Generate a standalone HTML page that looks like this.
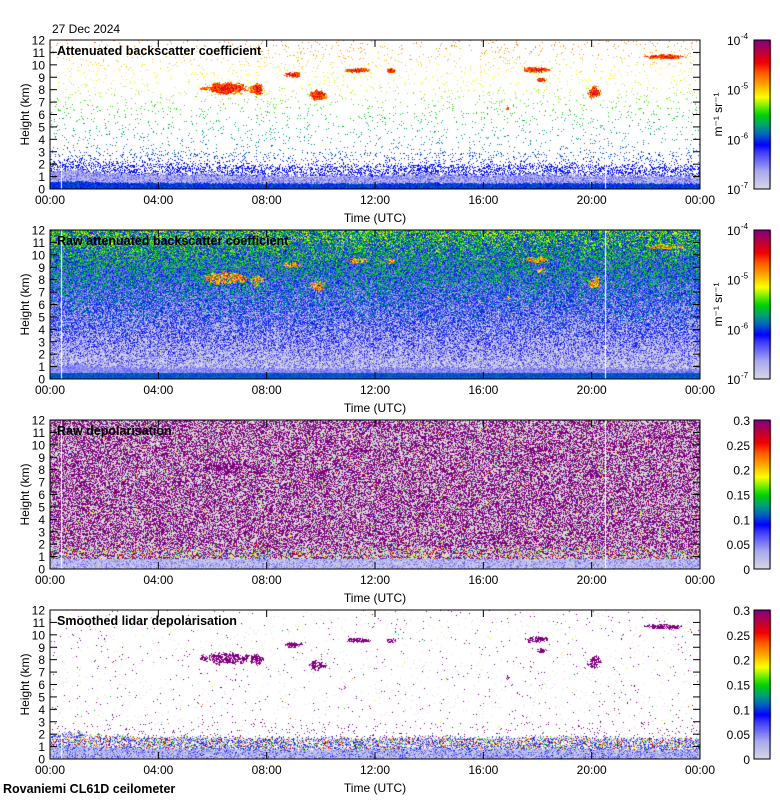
<!DOCTYPE html>
<html><head><meta charset="utf-8">
<style>
html,body{margin:0;padding:0;background:#fff;width:780px;height:800px;overflow:hidden}
#wrap{position:relative;width:780px;height:800px}
canvas{position:absolute;left:0;top:0}
svg{position:absolute;left:0;top:0}
text{font-family:"Liberation Sans",sans-serif;font-size:12px;fill:#000}
.t{font-weight:bold;font-size:12.5px}
</style></head>
<body>
<div id="wrap">
<canvas id="cv" width="780" height="800"></canvas>
<svg id="sv" width="780" height="800"></svg>
</div>
<script>
// ---- data ----
const xTickLabels = ["00:00","04:00","08:00","12:00","16:00","20:00","00:00"];
const xTickHours = [0,4,8,12,16,20,24];
const yTickValues = [0,1,2,3,4,5,6,7,8,9,10,11,12];
const panelTitles = ["Attenuated backscatter coefficient","Raw attenuated backscatter coefficient","Raw depolarisation","Smoothed lidar depolarisation"];
// cloud patches: start hour, end hour, base km, top km
const cloudStart = [5.4, 8.6, 9.5, 10.8, 12.4, 17.3, 17.9, 19.8, 21.7, 16.8, 7.3];
const cloudEnd   = [7.6, 9.4, 10.3, 11.9, 12.8, 18.6, 18.4, 20.4, 23.6, 17.0, 8.0];
const cloudBase  = [7.5, 8.9, 7.0, 9.3, 9.2, 9.3, 8.5, 7.2, 10.4, 6.3, 7.4];
const cloudTop   = [8.7, 9.5, 8.1, 9.8, 9.8, 9.9, 9.0, 8.4, 10.9, 6.7, 8.6];
// boundary layer top (km) through the day
const blHours = [0,1,2,4,6,8,10,12,14,16,18,20,22,24];
const blHeight = [1.4,1.6,1.3,1.2,1.2,1.1,1.1,1.1,1.2,1.1,1.2,1.1,1.1,1.0];
const gapHours = [0.4, 20.5];
const cbTicksLog = ["10","10","10","10"], cbExp=["-7","-6","-5","-4"];
const cbTicksDep = ["0","0.05","0.1","0.15","0.2","0.25","0.3"];

const X0=50, X1=700, PH=149;
const tops=[40,230,420,610];
const xs = t => X0 + t/24*(X1-X0);
const ys = (h,b) => b - h/12*PH;

const stops=[[0,[216,216,228]],[0.12,[170,170,240]],[0.25,[60,60,250]],[0.3,[0,0,255]],[0.37,[0,100,190]],[0.43,[0,160,120]],[0.5,[0,210,0]],[0.56,[120,240,0]],[0.62,[255,255,0]],[0.7,[255,170,0]],[0.78,[255,90,0]],[0.85,[240,0,0]],[0.92,[190,0,60]],[1,[128,0,128]]];
function cmap(v){v=Math.max(0,Math.min(1,v));for(let i=1;i<stops.length;i++){if(v<=stops[i][0]){const a=stops[i-1],b=stops[i],f=(v-a[0])/(b[0]-a[0]);return [0,1,2].map(k=>Math.round(a[1][k]+(b[1][k]-a[1][k])*f));}}return stops[stops.length-1][1];}
function hsh(x,y,s){let h=(x*374761393+y*668265263+s*982451653)|0;h=(h^(h>>>13))*1274126177|0;h=h^(h>>>16);return ((h>>>0)%100000)/100000;}
function bl(t){for(let i=1;i<blHours.length;i++)if(t<=blHours[i]){const f=(t-blHours[i-1])/(blHours[i]-blHours[i-1]);return blHeight[i-1]+(blHeight[i]-blHeight[i-1])*f;}return 1;}
function inCloud(t,h,px,py){
  for(let i=0;i<cloudStart.length;i++){
    if(t<cloudStart[i]-0.3||t>cloudEnd[i]+0.3||h<cloudBase[i]-0.4||h>cloudTop[i]+0.4)continue;
    const ct=(cloudStart[i]+cloudEnd[i])/2, ch=(cloudBase[i]+cloudTop[i])/2;
    const dt=(t-ct)/((cloudEnd[i]-cloudStart[i])/2), dh=(h-ch)/((cloudTop[i]-cloudBase[i])/2);
    const d=dt*dt+dh*dh;
    const n=hsh(Math.floor(px/4),Math.floor(py/3),7)*0.6+hsh(px,py,9)*0.4;
    if(d+0.9*n<1.0)return 1-d;
  }
  return -1;
}
const cv=document.getElementById('cv'),ctx=cv.getContext('2d');
const img=ctx.createImageData(780,800);
function put(x,y,c){const o=(y*780+x)*4;img.data[o]=c[0];img.data[o+1]=c[1];img.data[o+2]=c[2];img.data[o+3]=255;}
for(let p=0;p<4;p++){
  const top=tops[p], bot=top+PH;
  for(let py=top;py<bot;py++)for(let px=X0;px<X1;px++){
    const t=(px-X0+0.5)/(X1-X0)*24, h=(bot-py-0.5)/PH*12;
    const n1=hsh(px,py,p+1),n2=hsh(px,py,p+11),n3=hsh(px,py,p+21);
    const B=bl(t)+ (hsh(px,0,3)-0.5)*0.3;
    const cl=inCloud(t,h,px,py);
    let c=[255,255,255];
    if(p===0){
      if(h<B*0.4)c=cmap(0.3+0.08*n1);
      else if(h<B)c=cmap(0.02+0.22*n1);
      else if(cl>=0)c=cmap(0.6+0.18*n1+0.15*cl);
      else if(h<B+0.8){if(n2<0.4)c=cmap(0.28+0.05*n1);}
      else{const pr=h<3?0.1:0.035;if(n2<pr)c=cmap(0.22+0.045*h+0.04*(n1-0.5));}
    }else if(p===1){
      if(h<0.45)c=cmap(0.33+0.06*n1);
      else if(h<B*0.75)c=cmap(0.1+0.12*n1);
      else if(cl>=0&&n2<0.7)c=cmap(0.6+0.22*n1);
      else{const m=0.03+0.036*h;c=cmap(m+(n1-0.5)*0.4);}
    }else if(p===2){
      if(h<0.8)c=cmap(0.02+0.2*n1*n1);
      else{
        const pp=cl>=0?0.75:(h<1.8?0.3:0.5);
        if(n2<pp)c=[128,0,128];
        else if(n3<(h<1.8?0.3:0.05))c=cmap(0.15+0.8*n1);
        else c=[216,216,216];
      }
    }else{
      if(h<B*0.7)c=cmap(0.02+0.2*n1*n1+(n3<0.15?0.15:0));
      else if(h<B+0.6){if(n2<0.5)c=cmap(n3<0.6?0.12+0.2*n1:0.3+0.7*n1);else if(n2<0.7)c=[216,216,216];}
      else if(cl>=0){if(n2<0.8)c=[128,0,128];}
      else{const pr=h<3?0.03:0.008;if(n2<pr)c=[128,0,128];else if(n2<pr+0.015)c=[220,220,220];else if(n3<0.002)c=cmap(0.3+0.6*n1);}
    }
    for(const g of gapHours){const gx=Math.round(xs(g));if(px===gx&&!(g>20&&p===3))c=[255,255,255];}
    put(px,py,c);
  }
  for(let py=top;py<bot;py++){const c=cmap((bot-py)/PH);for(let px=754;px<771;px++)put(px,py,c);}
}
ctx.putImageData(img,0,0);

const NS="http://www.w3.org/2000/svg";
const sv=document.getElementById('sv');
function el(tag,attrs,txt){const e=document.createElementNS(NS,tag);for(const k in attrs)e.setAttribute(k,attrs[k]);if(txt!==undefined)e.textContent=txt;sv.appendChild(e);return e;}
let e=el('text',{x:52,y:33},"27 Dec 2024");


for(let p=0;p<4;p++){
  const top=tops[p],bot=top+PH;
  e=el('rect',{x:X0,y:top,width:X1-X0,height:PH,fill:'none',stroke:'#000','stroke-width':1});
  
  
  yTickValues.forEach(v=>{
    const y=ys(v,bot);
    e=el('line',{x1:X0,x2:X0+7,y1:y,y2:y,stroke:'#000'});
    
    
    el('line',{x1:X1-7,x2:X1,y1:y,y2:y,stroke:'#000'});
    e=el('text',{x:X0-5,y:y+4.5,'text-anchor':'end'},String(v));
    
    
  });
  xTickHours.forEach((hr,i)=>{
    const x=xs(hr);
    e=el('line',{x1:x,x2:x,y1:bot,y2:bot-7,stroke:'#000'});
    
    
    el('line',{x1:x,x2:x,y1:top,y2:top+7,stroke:'#000'});
    e=el('text',{x:x,y:bot+15,'text-anchor':'middle'},xTickLabels[i]);
    
    
  });
  e=el('text',{x:375,y:bot+33,'text-anchor':'middle'},"Time (UTC)");
  
  
  e=el('text',{x:0,y:0,'text-anchor':'middle',transform:`translate(29,${(top+bot)/2}) rotate(-90)`},"Height (km)");
  
  
  e=el('text',{x:57,y:top+15,class:'t'},panelTitles[p]);
  
  
  e=el('rect',{x:754,y:top,width:16,height:PH,fill:'none',stroke:'#000'});
  
  
  if(p<2){
    for(let i=0;i<4;i++){
      const y=bot-i*PH/3;
      e=el('text',{x:727,y:y+5,'text-anchor':'start'},cbTicksLog[i]);
      
      
      el('text',{x:741,y:y-1,style:'font-size:8px'},cbExp[i]);
    }
    e=el('text',{x:0,y:0,'text-anchor':'middle',transform:`translate(722,${(top+bot)/2}) rotate(-90)`},"m\u207B\u00B9 sr\u207B\u00B9");
    
    
  }else{
    cbTicksDep.forEach((l,i)=>{
      const y=bot-i*PH/6;
      e=el('text',{x:750,y:y+5,'text-anchor':'end'},l);
      
      
    });
  }
}
e=el('text',{x:3,y:793,class:'t'},"Rovaniemi CL61D ceilometer");


</script>
</body></html>
